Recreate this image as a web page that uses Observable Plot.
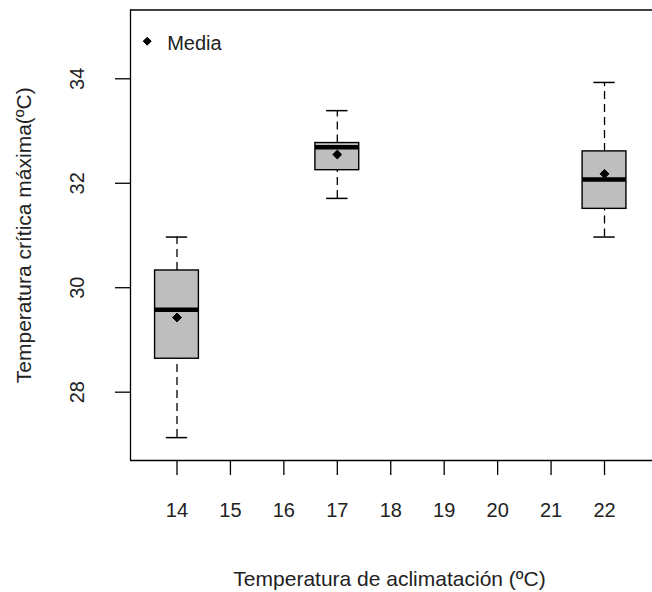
<!DOCTYPE html>
<html>
<head>
<meta charset="utf-8">
<script src="https://cdn.jsdelivr.net/npm/d3@7"></script>
<script src="https://cdn.jsdelivr.net/npm/@observablehq/plot@0.6"></script>
<style>
  html, body { margin: 0; padding: 0; background: #fff; }
  #chart { width: 652px; height: 592px; overflow: hidden; }
</style>
</head>
<body>
<div id="chart"></div>
<script>
// ---- data ----
const temps       = [14, 17, 22];
const whiskerLow  = [27.13, 31.71, 30.97];
const q1          = [28.64, 32.25, 31.51];
const medians     = [29.58, 32.69, 32.07];
const q3          = [30.33, 32.77, 32.61];
const whiskerHigh = [30.97, 33.39, 33.93];
const means       = [29.43, 32.55, 32.18];

const xTicks = [14, 15, 16, 17, 18, 19, 20, 21, 22];
const yTicks = [28, 30, 32, 34];
const legendLabels = ["Media"];
const xTitle = "Temperatura de aclimatación (ºC)";
const yTitle = "Temperatura crítica máxima(ºC)";

const xDomain = [13.13, 22.898];
const yDomain = [26.692, 35.317];

const boxes = temps.map((t, i) => ({
  t, lo: whiskerLow[i], q1: q1[i], med: medians[i], q3: q3[i], hi: whiskerHigh[i], mean: means[i]
}));

const halfBox = 0.41;
const halfCap = 0.2;
const font = "'Liberation Sans', Arial, sans-serif";
const textColor = "#222";

const chart = Plot.plot({
  width: 652,
  height: 592,
  marginLeft: 130,
  marginRight: 0,
  marginTop: 9.5,
  marginBottom: 132,
  x: { domain: xDomain },
  y: { domain: yDomain, axis: null },
  style: { fontFamily: font, fontSize: "20px", background: "#fff", color: "#000" },
  marks: [
    // plot box (left, top, bottom; right side is cropped off in the reference)
    Plot.ruleX([xDomain[0]], { stroke: "#000", strokeWidth: 1.3 }),
    Plot.ruleY(yDomain, { stroke: "#000", strokeWidth: 1.3 }),
    // x axis
    Plot.axisX(xTicks, { tickSize: 15, tickPadding: 27, fontSize: 20, label: null, strokeWidth: 1.3, fill: textColor }),
    // y axis ticks
    Plot.axisY(yTicks, { tickSize: 15, tickFormat: () => "", label: null, strokeWidth: 1.3 }),
    // y tick labels rotated
    Plot.text(yTicks, { y: d => d, text: d => String(d), frameAnchor: "left", dx: -53, rotate: -90,
      textAnchor: "middle", lineAnchor: "middle", fontSize: 20, fill: textColor }),
    // whiskers (dashed)
    Plot.ruleX(boxes, { x: "t", y1: "q3", y2: "hi", stroke: "#000", strokeWidth: 1.3, strokeDasharray: "8,5" }),
    Plot.ruleX(boxes, { x: "t", y1: "lo", y2: "q1", stroke: "#000", strokeWidth: 1.3, strokeDasharray: "8,5" }),
    // whisker caps
    Plot.ruleY(boxes, { y: "hi", x1: d => d.t - halfCap, x2: d => d.t + halfCap, stroke: "#000", strokeWidth: 1.5 }),
    Plot.ruleY(boxes, { y: "lo", x1: d => d.t - halfCap, x2: d => d.t + halfCap, stroke: "#000", strokeWidth: 1.5 }),
    // boxes
    Plot.rect(boxes, { x1: d => d.t - halfBox, x2: d => d.t + halfBox, y1: "q1", y2: "q3",
      fill: "#bebebe", stroke: "#000", strokeWidth: 1.4 }),
    // medians
    Plot.ruleY(boxes, { y: "med", x1: d => d.t - halfBox, x2: d => d.t + halfBox, stroke: "#000", strokeWidth: 4.5 }),
    // means
    Plot.dot(boxes, { x: "t", y: "mean", symbol: "diamond2", r: 4, fill: "#000", stroke: "#000", strokeWidth: 1 }),
    // legend
    Plot.dot(legendLabels, { frameAnchor: "top-left", dx: 16.7, dy: 31.2, symbol: "diamond2", r: 3.6, fill: "#000", stroke: "#000", strokeWidth: 1 }),
    Plot.text(legendLabels, { text: d => d, frameAnchor: "top-left", dx: 36.7, dy: 33.8, textAnchor: "start",
      lineAnchor: "middle", fontSize: 20, fill: textColor }),
    // axis titles
    Plot.text([xTitle], { text: d => d, frameAnchor: "bottom", dx: -2, dy: 125, lineAnchor: "bottom",
      fontSize: 21, fill: textColor }),
    Plot.text([yTitle], { text: d => d, frameAnchor: "left", dx: -106, dy: 0, rotate: -90,
      textAnchor: "middle", lineAnchor: "middle", fontSize: 21, fill: textColor })
  ]
});
document.getElementById("chart").appendChild(chart);
</script>
</body>
</html>
